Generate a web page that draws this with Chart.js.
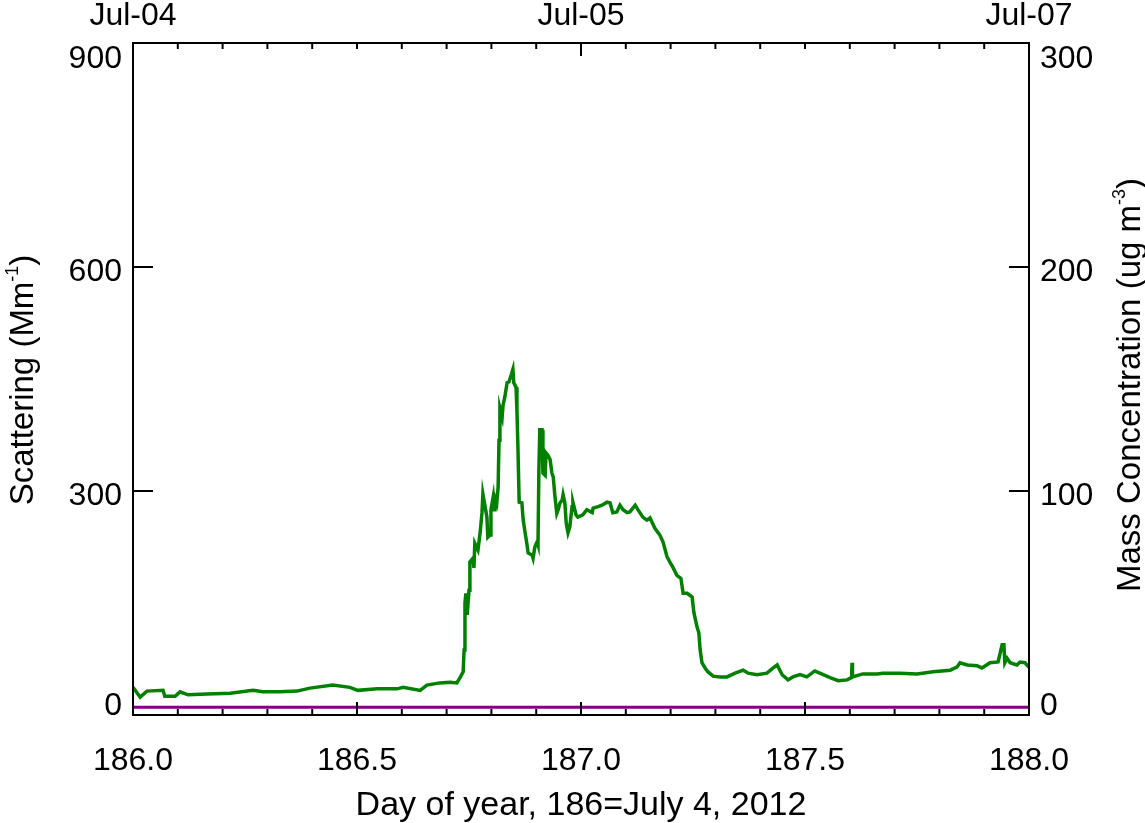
<!DOCTYPE html>
<html><head><meta charset="utf-8">
<style>html,body{margin:0;padding:0;background:#fff;}canvas{display:block;}</style>
<script src="https://cdn.jsdelivr.net/npm/chart.js@4.4.1/dist/chart.umd.min.js"></script>
</head><body>
<canvas id="c" width="1145" height="823"></canvas>
<script>
// Scattering time series (day of year, Mm^-1)
const scatterDays = [
186.000,186.016,186.031,186.067,186.071,186.094,186.105,186.123,186.165,186.217,
186.268,186.290,186.328,186.366,186.395,186.446,186.484,186.502,186.545,186.589,
186.603,186.641,186.656,186.685,186.708,186.723,186.730,186.737,186.739,186.741,
186.743,186.746,186.750,186.752,186.759,186.761,186.763,186.770,186.775,186.779,
186.781,186.786,186.790,186.792,186.797,186.799,186.804,186.806,186.808,186.812,
186.815,186.817,186.819,186.824,186.826,186.830,186.835,186.839,186.844,186.848,
186.850,186.855,186.857,186.859,186.862,186.868,186.871,186.875,186.879,186.882,
186.891,186.893,186.897,186.902,186.904,186.906,186.908,186.913,186.915,186.920,
186.922,186.926,186.931,186.935,186.938,186.942,186.946,186.949,186.953,186.958,
186.960,186.964,186.967,186.971,186.975,186.980,186.982,186.989,186.993,187.004,
187.013,187.025,187.027,187.038,187.047,187.058,187.065,187.071,187.080,187.087,
187.094,187.103,187.109,187.121,187.127,187.138,187.147,187.154,187.165,187.176,
187.183,187.192,187.199,187.205,187.214,187.223,187.228,187.237,187.248,187.252,
187.259,187.263,187.266,187.270,187.277,187.283,187.295,187.310,187.326,187.344,
187.362,187.373,187.393,187.415,187.429,187.438,187.449,187.462,187.473,187.489,
187.504,187.522,187.533,187.556,187.574,187.594,187.604,187.605,187.606,187.629,
187.661,187.674,187.712,187.750,187.786,187.824,187.839,187.846,187.862,187.884,
187.895,187.913,187.931,187.940,187.944,187.946,187.951,187.958,187.973,187.980,
187.991,188.000];
const scattering = [
37,24,32,33,25,25,31,27,28,29,
33,31,31,32,36,40,37,33,35,35,
37,33,40,43,44,43,50,58,87,150,
163,134,167,205,210,197,230,221,245,271,
296,279,265,238,241,275,292,275,291,284,
305,368,411,399,415,426,445,446,455,463,
445,439,408,364,285,284,261,245,230,217,
214,210,225,232,228,328,382,382,324,321,
351,348,342,324,319,292,270,275,284,288,
295,284,257,244,252,279,285,268,265,268,
275,271,277,279,281,285,284,271,272,281,
275,271,272,281,275,265,261,264,250,241,
232,212,204,198,187,183,163,163,158,137,
118,110,87,70,63,58,52,51,51,56,
60,56,54,56,63,67,54,47,51,54,
51,59,56,50,46,47,50,70,51,55,
55,56,56,55,58,60,64,70,67,66,
63,70,71,94,94,70,76,70,67,71,
70,64];
// Mass concentration (ug m^-3)
const massDays = [186.0, 188.0];
const massConc = [3.5, 3.5];

// Axis ticks / labels
const xTickValues = [186.0, 186.5, 187.0, 187.5, 188.0];
const xTickLabels = ['186.0', '186.5', '187.0', '187.5', '188.0'];
const topTickValues = [186, 187, 188];
const topTickLabels = ['Jul-04', 'Jul-05', 'Jul-07'];
const leftTickValues = [0, 300, 600, 900];
const rightTickValues = [0, 100, 200, 300];
const xTitle = 'Day of year, 186=July 4, 2012';
const leftTitle = ['Scattering (Mm', '-1', ')'];
const rightTitle = ['Mass Concentration (ug m', '-3', ')'];

const FONT = '"Liberation Sans", Arial, Helvetica, sans-serif';

function supText(ctx, parts, size, supSize, raise) {
  ctx.font = size + 'px ' + FONT;
  const w1 = ctx.measureText(parts[0]).width;
  const w3 = ctx.measureText(parts[2]).width;
  ctx.font = supSize + 'px ' + FONT;
  const w2 = ctx.measureText(parts[1]).width;
  let xx = -(w1 + w2 + w3) / 2;
  ctx.textAlign = 'left';
  ctx.textBaseline = 'alphabetic';
  ctx.font = size + 'px ' + FONT;
  ctx.fillText(parts[0], xx, 0); xx += w1;
  ctx.font = supSize + 'px ' + FONT;
  ctx.fillText(parts[1], xx, -raise); xx += w2;
  ctx.font = size + 'px ' + FONT;
  ctx.fillText(parts[2], xx, 0);
}

const idlAxes = {
  id: 'idlAxes',
  afterDraw(chart) {
    const ctx = chart.ctx, a = chart.chartArea;
    const x = chart.scales.x, y = chart.scales.y, y2 = chart.scales.y2;
    ctx.save();
    ctx.strokeStyle = '#000';
    ctx.fillStyle = '#000';
    ctx.lineWidth = 2;
    ctx.strokeRect(a.left, a.top, a.right - a.left, a.bottom - a.top);
    ctx.beginPath();
    for (let i = 1; i < 20; i++) {
      const v = 186 + i * 0.1;
      const px = x.getPixelForValue(v);
      const major = (i % 5 === 0);
      ctx.moveTo(px, a.bottom); ctx.lineTo(px, a.bottom - (major ? 13 : 6));
      const topMajor = (i === 10);
      ctx.moveTo(px, a.top); ctx.lineTo(px, a.top + (topMajor ? 13 : 6));
    }
    leftTickValues.forEach(v => {
      if (v <= y.min || v >= y.max) return;
      const py = y.getPixelForValue(v);
      ctx.moveTo(a.left, py); ctx.lineTo(a.left + 20, py);
    });
    rightTickValues.forEach(v => {
      if (v <= y2.min || v >= y2.max) return;
      const py = y2.getPixelForValue(v);
      ctx.moveTo(a.right, py); ctx.lineTo(a.right - 20, py);
    });
    ctx.stroke();

    ctx.font = '32px ' + FONT;
    ctx.textBaseline = 'alphabetic';
    ctx.textAlign = 'right';
    leftTickValues.forEach(v => {
      const py = y.getPixelForValue(v);
      const base = Math.min(a.bottom, Math.max(a.top + 25, py + 14));
      ctx.fillText(String(v), a.left - 11, base);
    });
    ctx.textAlign = 'left';
    rightTickValues.forEach(v => {
      const py = y2.getPixelForValue(v);
      const base = Math.min(a.bottom, Math.max(a.top + 25, py + 14));
      ctx.fillText(String(v), a.right + 11, base);
    });
    ctx.textAlign = 'center';
    xTickValues.forEach((v, i) => {
      ctx.fillText(xTickLabels[i], x.getPixelForValue(v), a.bottom + 55);
    });
    topTickValues.forEach((v, i) => {
      ctx.fillText(topTickLabels[i], x.getPixelForValue(v), a.top - 18);
    });
    ctx.font = '34px ' + FONT;
    ctx.fillText(xTitle, (a.left + a.right) / 2, a.bottom + 100);

    ctx.save();
    ctx.translate(33, 380);
    ctx.rotate(-Math.PI / 2);
    supText(ctx, leftTitle, 33, 18, 15);
    ctx.restore();

    ctx.save();
    ctx.translate(1140, 385);
    ctx.rotate(-Math.PI / 2);
    supText(ctx, rightTitle, 33, 18, 15);
    ctx.restore();
    ctx.restore();
  }
};

new Chart(document.getElementById('c').getContext('2d'), {
  type: 'line',
  data: {
    datasets: [
      { label: 'Mass concentration', yAxisID: 'y2',
        data: massDays.map((d, i) => ({ x: d, y: massConc[i] })),
        borderColor: '#800080', borderWidth: 3, pointRadius: 0, tension: 0 },
      { label: 'Scattering', yAxisID: 'y',
        data: scatterDays.map((d, i) => ({ x: d, y: scattering[i] })),
        borderColor: '#008000', borderWidth: 3.5, pointRadius: 0, tension: 0 }
    ]
  },
  options: {
    responsive: false, animation: false, devicePixelRatio: 1,
    layout: { padding: { left: 133, right: 116, top: 43, bottom: 108 } },
    plugins: { legend: { display: false }, tooltip: { enabled: false } },
    scales: {
      x: { type: 'linear', min: 186, max: 188, display: false },
      y: { type: 'linear', min: 0, max: 900, display: false },
      y2: { type: 'linear', position: 'right', min: 0, max: 300, display: false }
    }
  },
  plugins: [idlAxes]
});
</script>
</body></html>
